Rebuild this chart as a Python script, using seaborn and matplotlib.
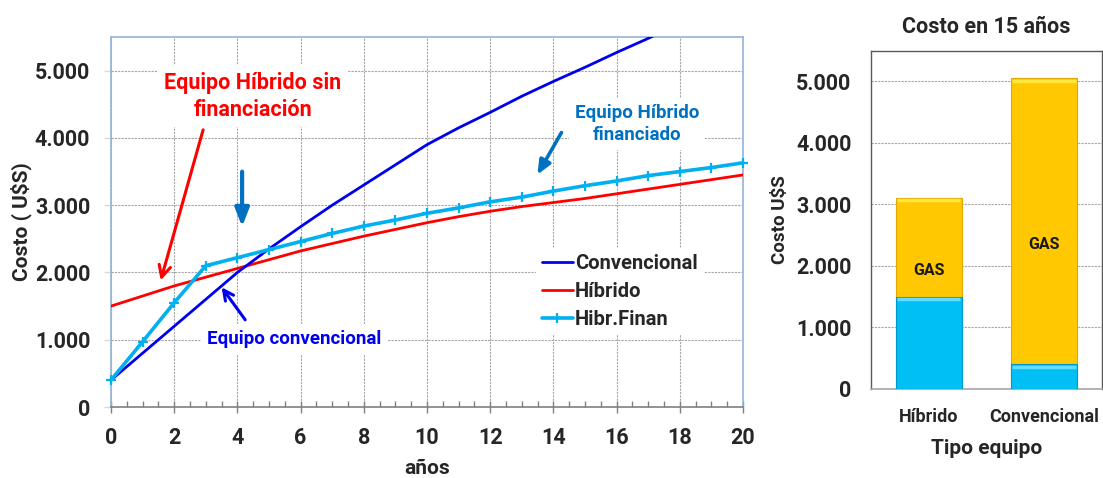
import numpy as np
import pandas as pd
import matplotlib
matplotlib.use("Agg")
import matplotlib.pyplot as plt
from matplotlib.ticker import FuncFormatter, MultipleLocator
import seaborn as sns

# ---- data -------------------------------------------------------------
anios = list(range(0, 21))
convencional = [400, 800, 1200, 1600, 2000, 2350, 2680, 3000, 3300, 3600, 3900,
                4150, 4380, 4620, 4840, 5050, 5270, 5480, 5700, 5900, 6100]
hibrido = [1500, 1650, 1800, 1930, 2060, 2190, 2320, 2430, 2540, 2640, 2740,
           2830, 2910, 2980, 3040, 3100, 3170, 3240, 3310, 3380, 3450]
hibr_finan = [400, 970, 1550, 2100, 2220, 2340, 2460, 2580, 2690, 2780, 2880,
              2960, 3050, 3120, 3210, 3290, 3360, 3440, 3500, 3560, 3630]

tipos = ["Híbrido", "Convencional"]
costo_equipo = [1500, 400]      # purchase cost (blue segment)
costo_total_15 = [3100, 5050]   # total cost after 15 years (top of GAS segment)
gas_label_pos = [1930, 2350]

# ---- style ------------------------------------------------------------
sns.set_theme(style="white")
plt.rcParams["font.family"] = ["Roboto", "DejaVu Sans"]
plt.rcParams["font.weight"] = "bold"

C_CONV = "#0000F0"
C_HIB = "#FF0000"
C_FIN = "#00B0F0"
C_NOTE = "#0070C0"
GRID = dict(color="#A6A6A6", linestyle=(0, (2, 1)), linewidth=0.8)
TICK_FS = 15.5

thousands = FuncFormatter(lambda v, p: f"{v:,.0f}".replace(",", "."))

fig = plt.figure(figsize=(11.03, 4.78), dpi=100)
ax = fig.add_axes([0.1006, 0.1485, 0.5730, 0.7740])
ax2 = fig.add_axes([0.7897, 0.1862, 0.2093, 0.7078])

# ---- line chart -------------------------------------------------------
df = pd.DataFrame({"anios": anios, "Convencional": convencional,
                   "Híbrido": hibrido, "Hibr.Finan": hibr_finan})

sns.lineplot(data=df, x="anios", y="Convencional", ax=ax, color=C_CONV,
             linewidth=2.0, label="Convencional", zorder=4)
sns.lineplot(data=df, x="anios", y="Híbrido", ax=ax, color=C_HIB,
             linewidth=2.0, label="Híbrido", zorder=3)
sns.lineplot(data=df, x="anios", y="Hibr.Finan", ax=ax, color=C_FIN,
             linewidth=2.6, marker="+", markersize=7.5, markeredgewidth=1.6,
             markeredgecolor=C_FIN, markerfacecolor=C_FIN,
             label="Hibr.Finan", zorder=5)
ax.lines[-1].set_clip_on(False)

ax.set_xlim(0, 20)
ax.set_ylim(0, 5500)
ax.xaxis.set_major_locator(MultipleLocator(2))
ax.xaxis.set_minor_locator(MultipleLocator(0.5))
ax.yaxis.set_major_locator(MultipleLocator(1000))
ax.yaxis.set_major_formatter(thousands)
ax.grid(True, which="major", **GRID)
ax.set_axisbelow(True)

for side in ("left", "top", "right"):
    ax.spines[side].set_color("#95B3D7")
    ax.spines[side].set_linewidth(1.2)
ax.spines["bottom"].set_color("#808080")
ax.spines["bottom"].set_linewidth(1.2)

ax.tick_params(axis="x", which="major", direction="inout", length=9, width=1,
               color="#808080", pad=10, labelsize=TICK_FS, bottom=True)
ax.tick_params(axis="x", which="minor", direction="in", length=4, width=1,
               color="#808080", bottom=True)
ax.tick_params(axis="y", which="major", direction="out", length=5, width=1,
               color="#D9D9D9", pad=10, labelsize=TICK_FS, left=True)
for lbl in ax.get_xticklabels() + ax.get_yticklabels():
    lbl.set_fontweight("bold")

ax.set_xlabel("años", fontsize=15, fontweight="bold", labelpad=7)
ax.set_ylabel("Costo ( U$S)", fontsize=15, fontweight="bold", labelpad=2)

leg = ax.legend(loc="upper left", bbox_to_anchor=(0.672, 0.43), frameon=True,
                fontsize=14.5, handlelength=1.55, handletextpad=0.1,
                labelspacing=0.45, borderpad=0.3, borderaxespad=0)
leg.get_frame().set_facecolor("white")
leg.get_frame().set_edgecolor("none")
leg.get_frame().set_alpha(1)
for t in leg.get_texts():
    t.set_fontweight("bold")

# callouts
white_box = dict(boxstyle="square,pad=0.3", facecolor="white", edgecolor="none")
ax.text(4.49, 4620, "Equipo Híbrido sin\nfinanciación", color=C_HIB,
        fontsize=15.5, fontweight="bold", ha="center", va="center",
        linespacing=1.3, bbox=white_box, zorder=6)
ax.annotate("", xy=(1.55, 1842), xytext=(2.94, 4160),
            arrowprops=dict(arrowstyle="->,head_length=0.7,head_width=0.35",
                            color=C_HIB, lw=2.2), zorder=6)

ax.annotate("", xy=(4.15, 2640), xytext=(4.15, 3540),
            arrowprops=dict(arrowstyle="-|>,head_length=0.9,head_width=0.35",
                            color=C_NOTE, lw=3.0), zorder=6)

ax.text(5.79, 1010, "Equipo convencional", color=C_CONV, fontsize=13.5,
        fontweight="bold", ha="center", va="center", bbox=white_box, zorder=6)
ax.annotate("", xy=(3.45, 1813), xytext=(4.30, 1263),
            arrowprops=dict(arrowstyle="->,head_length=0.6,head_width=0.3",
                            color=C_CONV, lw=2.2), zorder=6)

ax.text(16.65, 4210, "Equipo Híbrido\nfinanciado", color=C_NOTE, fontsize=13.5,
        fontweight="bold", ha="center", va="center", linespacing=1.3,
        bbox=white_box, zorder=6)
ax.annotate("", xy=(13.45, 3418), xytext=(14.30, 4116),
            arrowprops=dict(arrowstyle="-|>,head_length=0.7,head_width=0.3",
                            color=C_NOTE, lw=2.6), zorder=6)

# ---- stacked bar chart --------------------------------------------------
bars = pd.DataFrame({"tipo": tipos, "equipo": costo_equipo,
                     "total": costo_total_15})
sns.barplot(data=bars, x="tipo", y="total", ax=ax2, color="#FFC800",
            saturation=1, width=0.57, edgecolor="#E0A800", linewidth=0.8,
            zorder=3)
sns.barplot(data=bars, x="tipo", y="equipo", ax=ax2, color="#00BFF5",
            saturation=1, width=0.57, edgecolor="#0098C8", linewidth=0.8,
            zorder=4)
# lighter bevel strip just below the top of each segment
bevel = 35
ax2.hlines([v - bevel for v in costo_total_15], [i - 0.275 for i in range(2)],
           [i + 0.275 for i in range(2)], color="#FFE640", lw=2.5, zorder=5)
ax2.hlines([v - bevel for v in costo_equipo], [i - 0.275 for i in range(2)],
           [i + 0.275 for i in range(2)], color="#5FDCFF", lw=2.5, zorder=5)

for i, y in enumerate(gas_label_pos):
    ax2.text(i, y, "GAS", ha="center", va="center", fontsize=11.5,
             fontweight="bold", color="#1A1A1A", zorder=6)

ax2.set_xlim(-0.5, 1.5)
ax2.set_ylim(0, 5500)
ax2.yaxis.set_major_locator(MultipleLocator(1000))
ax2.yaxis.set_major_formatter(thousands)
ax2.grid(True, axis="y", **GRID)
ax2.set_axisbelow(True)
for side in ("left", "top", "right"):
    ax2.spines[side].set_color("#595959")
    ax2.spines[side].set_linewidth(1.0)
ax2.spines["bottom"].set_color("#A6A6A6")
ax2.spines["bottom"].set_linewidth(1.2)
ax2.tick_params(axis="y", direction="out", length=0, pad=14, labelsize=TICK_FS)
ax2.tick_params(axis="x", length=0, pad=14, labelsize=13)
for lbl in ax2.get_xticklabels() + ax2.get_yticklabels():
    lbl.set_fontweight("bold")
ax2.set_title("Costo en 15 años", fontsize=15.5, fontweight="bold", pad=13)
ax2.set_xlabel("Tipo equipo", fontsize=15, fontweight="bold", labelpad=9)
ax2.set_ylabel("Costo U$S", fontsize=13.5, fontweight="bold", labelpad=5)

fig.savefig("out.png", dpi=100)
